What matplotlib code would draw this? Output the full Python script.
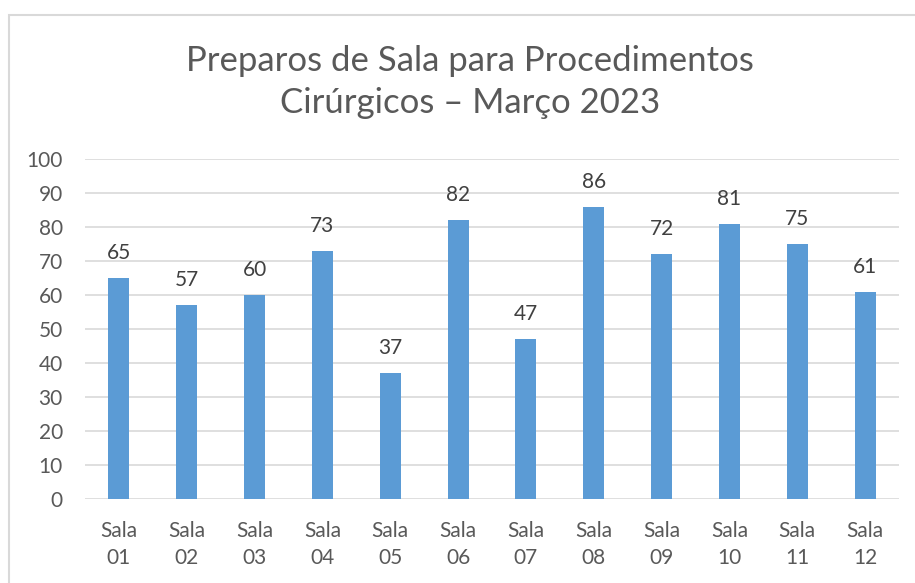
import matplotlib.pyplot as plt
from matplotlib.patches import Rectangle

salas = ['Sala\n01', 'Sala\n02', 'Sala\n03', 'Sala\n04', 'Sala\n05', 'Sala\n06',
         'Sala\n07', 'Sala\n08', 'Sala\n09', 'Sala\n10', 'Sala\n11', 'Sala\n12']
preparos = [65, 57, 60, 73, 37, 82, 47, 86, 72, 81, 75, 61]
y_ticks = list(range(0, 101, 10))

plt.rcParams['font.family'] = ['Lato', 'DejaVu Sans']

fig = plt.figure(figsize=(9.15, 5.83), dpi=100)
ax = fig.add_axes([85 / 915, 1 - 499 / 583, 814 / 915, 340 / 583])

# light frame round the chart area (cut off on right and bottom like the screenshot)
fig.patches.append(Rectangle((9 / 915, -0.1), 1.2, 1 - 15 / 583 + 0.1,
                             transform=fig.transFigure, fill=False,
                             edgecolor='#D9D9D9', linewidth=1.5))

x = list(range(len(salas)))
bars = ax.bar(x, preparos, width=0.31, color='#5B9BD5', zorder=3)

for xi, v in zip(x, preparos):
    ax.annotate(str(v), (xi, v), xytext=(0, 18), textcoords='offset points',
                ha='center', va='center', fontsize=15, color='#404040')

ax.set_xlim(-0.5, len(salas) - 0.5)
ax.set_ylim(0, 100)
ax.set_yticks(y_ticks)
ax.set_xticks(x)
ax.set_xticklabels(salas, linespacing=1.45)
ax.tick_params(axis='both', length=0, labelsize=15, colors='#595959')
ax.tick_params(axis='x', pad=16)
ax.tick_params(axis='y', pad=16)
for lab in ax.get_yticklabels():
    lab.set_horizontalalignment('right')

ax.grid(axis='y', color='#D9D9D9', linewidth=1.2, zorder=0)
for s in ['top', 'right', 'left', 'bottom']:
    ax.spines[s].set_visible(False)

fig.text(470 / 915, 1 - 82 / 583,
         'Preparos de Sala para Procedimentos\nCirúrgicos – Março 2023',
         ha='center', va='center', fontsize=25, color='#595959', linespacing=1.4)

fig.savefig('out.png', dpi=100)
